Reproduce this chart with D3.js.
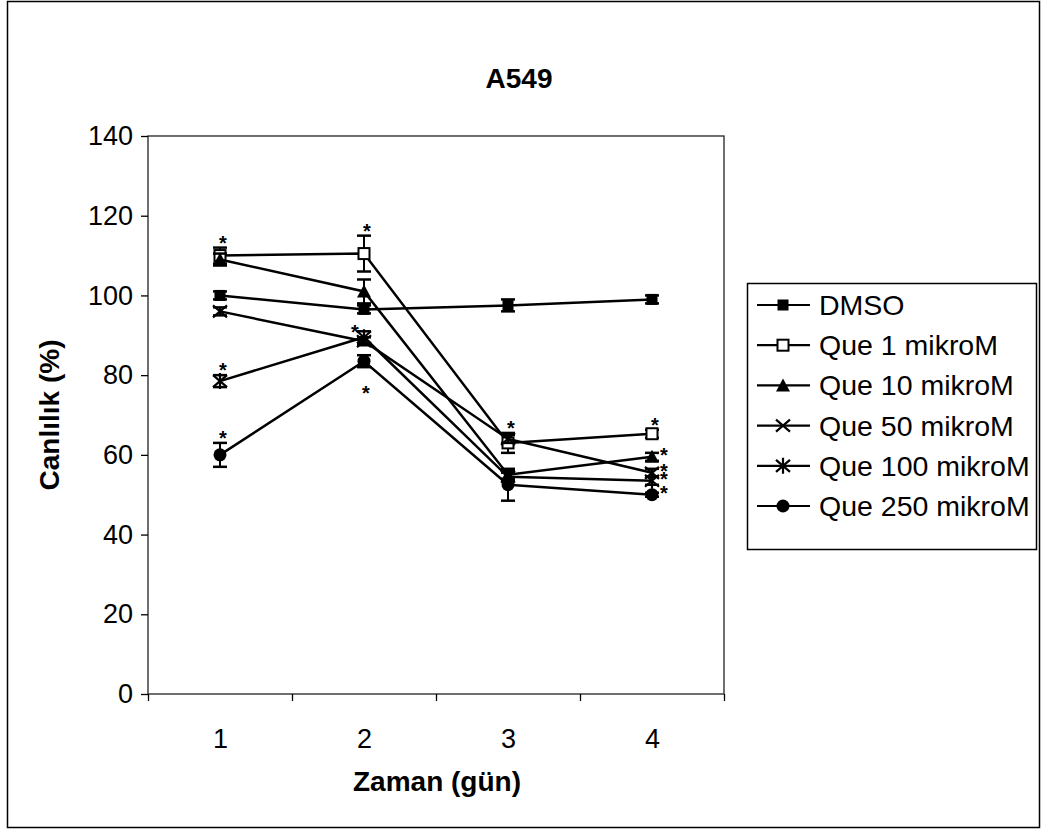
<!DOCTYPE html>
<html lang="tr">
<head>
<meta charset="UTF-8">
<title>A549</title>
<style>
  body, html { margin: 0; padding: 0; background: #fff; }
  svg { display: block; }
  text { font-family: "Liberation Sans", Arial, Helvetica, sans-serif; fill: #000; }
</style>
</head>
<body>
<svg id="svg" width="1044" height="831"></svg>
<script src="https://d3js.org/d3.v7.min.js"></script>
<script>
// ----- DATA -----
const days = [1, 2, 3, 4]
const seriesNames = ['DMSO', 'Que 1 mikroM', 'Que 10 mikroM', 'Que 50 mikroM', 'Que 100 mikroM', 'Que 250 mikroM']
const dmso    = [100, 96.5, 97.5, 99]
const que1    = [110, 110.5, 63, 65.3]
const que10   = [109, 101, 55, 59.5]
const que50   = [96, 88.5, 64, 55.5]
const que100  = [78.5, 89.5, 54.5, 53.5]
const que250  = [60, 83.5, 52.5, 50]
const errDmso   = [1, 1, 1.5, 1]
const errQue1   = [2, 4.5, 2.5, 1]
const errQue10  = [1.5, 3, 1, 1]
const errQue50  = [1, 1, 1, 1]
const errQue100 = [1.5, 1.5, 1, 1]
const errQue250 = [3, 1.5, 4, 0.5]
const yTicks = [0, 20, 40, 60, 80, 100, 120, 140]
// significance marks: series index, day, side
const starSeries = [1, 4, 5, 1, 4, 5, 1, 1, 2, 3, 4, 5]
const starDays   = [1, 1, 1, 2, 2, 2, 3, 4, 4, 4, 4, 4]
const starSide   = ['up', 'up', 'up', 'up', 'left', 'down', 'up', 'up', 'right', 'right', 'right', 'right']

const values = [dmso, que1, que10, que50, que100, que250]
const errors = [errDmso, errQue1, errQue10, errQue50, errQue100, errQue250]
const markers = ['square', 'open', 'triangle', 'x', 'asterisk', 'circle']

// ----- LAYOUT -----
const plot = {left: 148, right: 724, top: 136, bottom: 694}
const svg = d3.select('#svg')

const x = d3.scaleLinear().domain([0.5, 4.5]).range([plot.left, plot.right])
const y = d3.scaleLinear().domain([0, 140]).range([plot.bottom, plot.top])

// outer frame
svg.append('rect')
  .attr('x', 7.5).attr('y', 1.5).attr('width', 1032).attr('height', 826)
  .attr('fill', 'none').attr('stroke', '#000').attr('stroke-width', 1.5)

// plot area frame
svg.append('rect')
  .attr('x', plot.left).attr('y', plot.top)
  .attr('width', plot.right - plot.left).attr('height', plot.bottom - plot.top)
  .attr('fill', 'none').attr('stroke', '#222').attr('stroke-width', 1.3)

// title
svg.append('text')
  .attr('x', 519).attr('y', 88)
  .attr('text-anchor', 'middle')
  .style('font-size', '28px').style('font-weight', 'bold')
  .text('A549')

// ----- AXES -----
const leftAxis = d3.axisLeft(y).tickValues(yTicks).tickSize(7).tickPadding(8)
const gy = svg.append('g').attr('transform', `translate(${plot.left},0)`).call(leftAxis)
gy.select('.domain').remove()
gy.selectAll('text').style('font-size', '27px').style('font-family', '"Liberation Sans", Arial, sans-serif')
gy.selectAll('line').attr('stroke', '#000').attr('stroke-width', 1.3)

const tickAxis = d3.axisBottom(x).tickValues([0.5, 1.5, 2.5, 3.5, 4.5]).tickFormat('').tickSize(7)
const gt = svg.append('g').attr('transform', `translate(0,${plot.bottom})`).call(tickAxis)
gt.select('.domain').remove()
gt.selectAll('line').attr('stroke', '#000').attr('stroke-width', 1.3)

const labelAxis = d3.axisBottom(x).tickValues(days).tickFormat(d3.format('d')).tickSize(0).tickPadding(35)
const gx = svg.append('g').attr('transform', `translate(0,${plot.bottom})`).call(labelAxis)
gx.select('.domain').remove()
gx.selectAll('text').style('font-size', '27px').style('font-family', '"Liberation Sans", Arial, sans-serif')

// axis titles
svg.append('text')
  .attr('x', 437).attr('y', 791)
  .attr('text-anchor', 'middle')
  .style('font-size', '28px').style('font-weight', 'bold')
  .text('Zaman (gün)')

svg.append('text')
  .attr('transform', 'translate(59, 415) rotate(-90)')
  .attr('text-anchor', 'middle')
  .style('font-size', '28px').style('font-weight', 'bold')
  .text('Canlılık (%)')

// ----- MARKERS -----
function drawMarker(g, type, cx, cy) {
  if (type === 'square') {
    g.append('rect').attr('x', cx - 5.5).attr('y', cy - 5.5).attr('width', 11).attr('height', 11).attr('fill', '#000')
  } else if (type === 'open') {
    g.append('rect').attr('x', cx - 5.5).attr('y', cy - 5.5).attr('width', 11).attr('height', 11)
      .attr('fill', '#fff').attr('stroke', '#000').attr('stroke-width', 2)
  } else if (type === 'triangle') {
    g.append('path').attr('d', `M${cx},${cy - 7}L${cx + 7},${cy + 6}L${cx - 7},${cy + 6}Z`).attr('fill', '#000')
  } else if (type === 'x') {
    g.append('path').attr('d', `M${cx - 7},${cy - 6}L${cx + 7},${cy + 6}M${cx - 7},${cy + 6}L${cx + 7},${cy - 6}`)
      .attr('stroke', '#000').attr('stroke-width', 2.2)
  } else if (type === 'asterisk') {
    g.append('path').attr('d', `M${cx - 7},${cy - 6}L${cx + 7},${cy + 6}M${cx - 7},${cy + 6}L${cx + 7},${cy - 6}M${cx},${cy - 8}L${cx},${cy + 8}`)
      .attr('stroke', '#000').attr('stroke-width', 2.2)
  } else if (type === 'circle') {
    g.append('circle').attr('cx', cx).attr('cy', cy).attr('r', 6.5).attr('fill', '#000')
  }
}

// ----- SERIES -----
const line = d3.line().x((d, i) => x(days[i])).y(d => y(d))
const seriesGroup = svg.append('g')

values.forEach((vals, s) => {
  const g = seriesGroup.append('g')
  g.append('path')
    .datum(vals)
    .attr('d', line)
    .attr('fill', 'none')
    .attr('stroke', '#000')
    .attr('stroke-width', 2.5)

  // error bars
  vals.forEach((v, i) => {
    const e = errors[s][i]
    const cx = x(days[i])
    const y0 = y(v + e), y1 = y(v - e)
    g.append('line').attr('x1', cx).attr('x2', cx).attr('y1', y0).attr('y2', y1)
      .attr('stroke', '#000').attr('stroke-width', 2)
    ;[y0, y1].forEach(yy => {
      g.append('line').attr('x1', cx - 7).attr('x2', cx + 7).attr('y1', yy).attr('y2', yy)
        .attr('stroke', '#000').attr('stroke-width', 2.5)
    })
  })

  vals.forEach((v, i) => drawMarker(g, markers[s], x(days[i]), y(v)))
})

// ----- SIGNIFICANCE STARS -----
starSeries.forEach((s, k) => {
  const i = days.indexOf(starDays[k])
  const v = values[s][i], e = errors[s][i]
  let cx = x(days[i]), cy = y(v)
  if (starSide[k] === 'up') { cx += 3; cy = y(v + e) - 9 }
  else if (starSide[k] === 'down') { cx += 2; cy = y(v - e) + 22 }
  else if (starSide[k] === 'left') { cx -= 9; cy -= 9 }
  else if (starSide[k] === 'right') { cx += 12; cy -= 6 }
  svg.append('text')
    .attr('x', cx).attr('y', cy + 11)
    .attr('text-anchor', 'middle')
    .style('font-size', '20px').style('font-weight', 'bold')
    .text('*')
})

// ----- LEGEND -----
const legend = svg.append('g')
legend.append('rect')
  .attr('x', 747.5).attr('y', 283.5).attr('width', 289).attr('height', 266)
  .attr('fill', '#fff').attr('stroke', '#000').attr('stroke-width', 1.5)

seriesNames.forEach((name, s) => {
  const ly = 305 + s * 40.2
  legend.append('line').attr('x1', 757).attr('x2', 810).attr('y1', ly).attr('y2', ly)
    .attr('stroke', '#000').attr('stroke-width', 2.2)
  drawMarker(legend, markers[s], 783, ly)
  legend.append('text')
    .attr('x', 819).attr('y', ly + 10)
    .style('font-size', '28.5px')
    .text(name)
})
</script>
</body>
</html>
